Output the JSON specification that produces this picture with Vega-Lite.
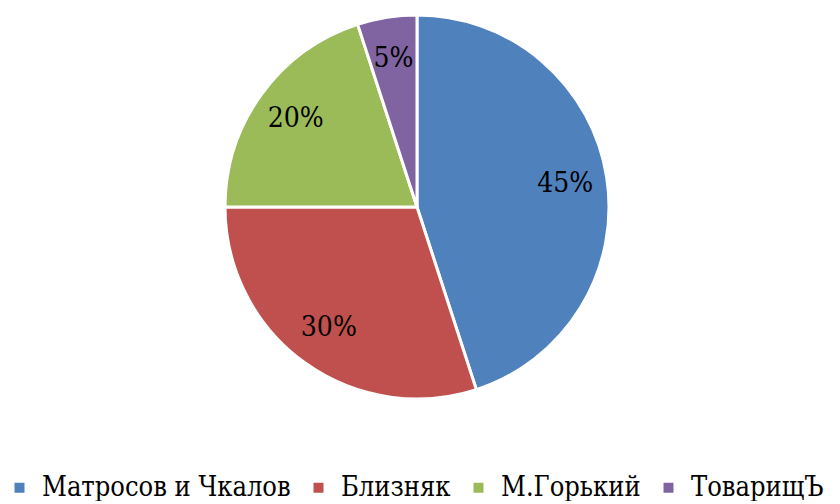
{
  "$schema": "https://vega.github.io/schema/vega-lite/v6.json",
  "autosize": {"type": "pad"},
  "padding": 0,
  "width": 834,
  "height": 414,
  "background": "white",
  "data": {"values": [
    {"name": "Матросов и Чкалов", "value": 45, "label": "45%", "ord": 1},
    {"name": "Близняк", "value": 30, "label": "30%", "ord": 2},
    {"name": "М.Горький", "value": 20, "label": "20%", "ord": 3},
    {"name": "ТоварищЪ", "value": 5, "label": "5%", "ord": 4}
  ]},
  "encoding": {
    "theta": {"field": "value", "type": "quantitative", "stack": true},
    "order": {"field": "ord", "type": "quantitative"}
  },
  "layer": [
    {
      "mark": {"type": "arc", "outerRadius": 192, "stroke": "white", "strokeWidth": 3},
      "encoding": {
        "color": {
          "field": "name", "type": "nominal",
          "scale": {"domain": ["Матросов и Чкалов", "Близняк", "М.Горький", "ТоварищЪ"],
                    "range": ["#4F81BD", "#C0504D", "#9BBB59", "#8064A2"]},
          "legend": {
            "orient": "none", "legendX": 6, "legendY": 474, "direction": "horizontal", "title": null,
            "symbolType": "square", "symbolSize": 100, "symbolStrokeWidth": 0,
            "labelFont": "DejaVu Serif Condensed", "labelFontSize": 27, "labelColor": "black",
            "columnPadding": 14, "labelLimit": 400, "labelOffset": 9
          }
        }
      }
    },
    {
      "mark": {"type": "text", "radius": 150, "font": "DejaVu Serif Condensed", "fontSize": 28, "color": "black", "align": "center", "baseline": "middle"},
      "encoding": {"text": {"field": "label", "type": "nominal"}}
    }
  ],
  "config": {"view": {"stroke": null}}
}
